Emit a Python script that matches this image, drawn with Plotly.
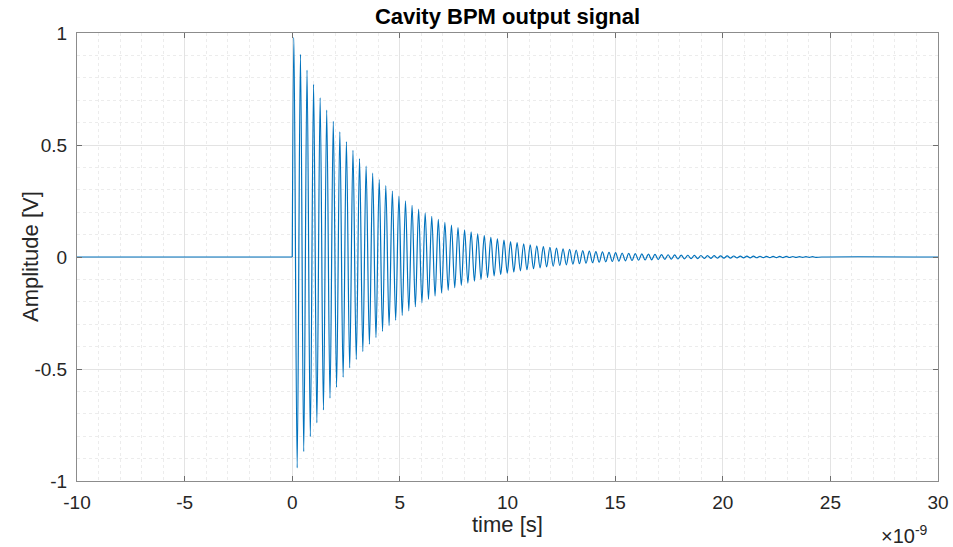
import plotly.graph_objects as go

# ---- data (time in ns, amplitude in V) ----
baseline_t = [-10.0, 0.0]
baseline_v = [0.0, 0.0]

# extrema of the ringing signal (alternating max / min)
peak_t = [
    0.076, 0.229, 0.381, 0.534, 0.686, 0.839, 0.991, 1.144, 1.296, 1.449,
    1.601, 1.754, 1.906, 2.059, 2.211, 2.364, 2.516, 2.669, 2.821, 2.974,
    3.126, 3.279, 3.431, 3.584, 3.736, 3.889, 4.041, 4.194, 4.346, 4.499,
    4.651, 4.804, 4.956, 5.109, 5.261, 5.414, 5.566, 5.719, 5.871, 6.024,
    6.176, 6.329, 6.481, 6.634, 6.786, 6.939, 7.091, 7.244, 7.396, 7.549,
    7.701, 7.854, 8.006, 8.159, 8.311, 8.464, 8.616, 8.769, 8.921, 9.074,
    9.226, 9.379, 9.531, 9.684, 9.836, 9.989, 10.141, 10.294, 10.446, 10.599,
    10.751, 10.904, 11.056, 11.209, 11.361, 11.514, 11.666, 11.819, 11.971, 12.124,
    12.276, 12.429, 12.581, 12.734, 12.886, 13.039, 13.191, 13.344, 13.496, 13.649,
    13.801, 13.954, 14.106, 14.259, 14.411, 14.564, 14.716, 14.869, 15.021, 15.174,
    15.326, 15.479, 15.631, 15.784, 15.936, 16.089, 16.241, 16.394, 16.546, 16.699,
    16.851, 17.004, 17.156, 17.309, 17.461, 17.614, 17.766, 17.919, 18.071, 18.224,
    18.376, 18.529, 18.681, 18.834, 18.986, 19.139, 19.291, 19.444, 19.596, 19.749,
    19.901, 20.054, 20.206, 20.359, 20.511, 20.664, 20.816, 20.969, 21.121, 21.274,
    21.426, 21.579, 21.731, 21.884, 22.036, 22.189, 22.341, 22.494, 22.646, 22.799,
    22.951, 23.104, 23.256, 23.409, 23.561, 23.714, 23.866, 24.019, 24.171, 24.324,
]
peak_v = [
    0.9801, -0.9416, 0.9045, -0.8690, 0.8348, -0.8019, 0.7704, -0.7401, 0.7110, -0.6830,
    0.6561, -0.6303, 0.6055, -0.5817, 0.5588, -0.5368, 0.5157, -0.4954, 0.4760, -0.4572,
    0.4393, -0.4220, 0.4054, -0.3894, 0.3741, -0.3594, 0.3453, -0.3317, 0.3186, -0.3061,
    0.2941, -0.2825, 0.2714, -0.2607, 0.2504, -0.2406, 0.2311, -0.2220, 0.2133, -0.2049,
    0.1969, -0.1891, 0.1817, -0.1745, 0.1677, -0.1611, 0.1547, -0.1487, 0.1428, -0.1372,
    0.1318, -0.1266, 0.1216, -0.1168, 0.1122, -0.1078, 0.1036, -0.0995, 0.0956, -0.0918,
    0.0882, -0.0847, 0.0814, -0.0782, 0.0751, -0.0722, 0.0693, -0.0666, 0.0640, -0.0615,
    0.0591, -0.0567, 0.0545, -0.0524, 0.0503, -0.0483, 0.0464, -0.0446, 0.0428, -0.0412,
    0.0395, -0.0380, 0.0365, -0.0350, 0.0337, -0.0323, 0.0311, -0.0299, 0.0287, -0.0276,
    0.0265, -0.0254, 0.0244, -0.0235, 0.0225, -0.0217, 0.0208, -0.0200, 0.0192, -0.0185,
    0.0177, -0.0170, 0.0164, -0.0157, 0.0151, -0.0145, 0.0139, -0.0134, 0.0129, -0.0124,
    0.0119, -0.0114, 0.0109, -0.0105, 0.0101, -0.0097, 0.0093, -0.0089, 0.0086, -0.0083,
    0.0079, -0.0076, 0.0073, -0.0070, 0.0068, -0.0065, 0.0062, -0.0060, 0.0058, -0.0055,
    0.0053, -0.0051, 0.0049, -0.0047, 0.0045, -0.0043, 0.0042, -0.0040, 0.0039, -0.0037,
    0.0036, -0.0034, 0.0033, -0.0032, 0.0030, -0.0029, 0.0028, -0.0027, 0.0026, -0.0025,
    0.0024, -0.0023, 0.0022, -0.0021, 0.0020, -0.0020, 0.0019, -0.0018, 0.0017, -0.0017,
]
tail_t = [24.6, 30.0]
tail_v = [0.0, 0.0]

ring_t = [0.0] + peak_t + tail_t
ring_v = [0.0] + peak_v + tail_v

x_ticks = [-10, -5, 0, 5, 10, 15, 20, 25, 30]
x_labels = ["-10", "-5", "0", "5", "10", "15", "20", "25", "30"]
y_ticks = [-1, -0.5, 0, 0.5, 1]
y_labels = ["-1", "-0.5", "0", "0.5", "1"]

LINE = "#0072BD"
FONT = "Liberation Sans, Arial, sans-serif"
TXT = "#262626"

# plot-area geometry (px) used for placing text
L, R, T, B = 77, 15, 33, 66
W, H = 953, 547
PW, PH = W - L - R, H - T - B
BOTTOM = H - B  # pixel row of the x axis


def py(pixel_row):
    """paper y coordinate of a pixel row"""
    return (BOTTOM - pixel_row) / PH


def px(pixel_col):
    """paper x coordinate of a pixel column"""
    return (pixel_col - L) / PW


fig = go.Figure()
fig.add_trace(go.Scatter(x=baseline_t, y=baseline_v, mode="lines",
                         line=dict(color=LINE, width=1.2), showlegend=False))
fig.add_trace(go.Scatter(x=ring_t, y=ring_v, mode="lines",
                         line=dict(color=LINE, width=1.2, shape="spline", smoothing=1),
                         showlegend=False))

axis_common = dict(
    showline=True, linecolor="#8c8c8c", linewidth=1, mirror="ticks",
    ticks="inside", ticklen=5, tickcolor="#6e6e6e", tickwidth=1,
    showgrid=True, gridcolor="#e3e3e3", gridwidth=1,
    zeroline=False, automargin=False,
    tickfont=dict(family=FONT, size=19, color=TXT),
)

fig.update_xaxes(
    range=[-10, 30], tickmode="array", tickvals=x_ticks, ticktext=x_labels,
    minor=dict(dtick=1, showgrid=True, gridcolor="#ececec", griddash="dot", ticks=""),
    ticklabelstandoff=4,
    **axis_common,
)
fig.update_yaxes(
    range=[-1, 1], tickmode="array", tickvals=y_ticks, ticktext=y_labels,
    minor=dict(dtick=0.1, showgrid=True, gridcolor="#ececec", griddash="dot", ticks=""),
    ticklabelstandoff=5,
    **axis_common,
)

fig.update_layout(
    width=W, height=H,
    margin=dict(l=L, r=R, t=T, b=B),
    paper_bgcolor="white", plot_bgcolor="white",
    title=dict(text="<b>Cavity BPM output signal</b>", x=(L + PW / 2) / W, xanchor="center",
               y=1 - 16 / H, yanchor="middle",
               font=dict(family=FONT, size=22, color="black")),
    annotations=[
        dict(text="time [s]", xref="paper", yref="paper",
             x=0.5, xanchor="center", y=py(524), yanchor="middle",
             showarrow=False, font=dict(family=FONT, size=22, color=TXT)),
        dict(text="Amplitude [V]", xref="paper", yref="paper", textangle=-90,
             x=px(30), xanchor="center", y=0.5, yanchor="middle",
             showarrow=False, font=dict(family=FONT, size=22, color=TXT)),
        dict(text="×10<sup>-9</sup>", xref="paper", yref="paper",
             x=px(930), xanchor="right", y=py(520), yanchor="top",
             showarrow=False, font=dict(family=FONT, size=20, color=TXT)),
    ],
)

fig.write_html("out.html")
